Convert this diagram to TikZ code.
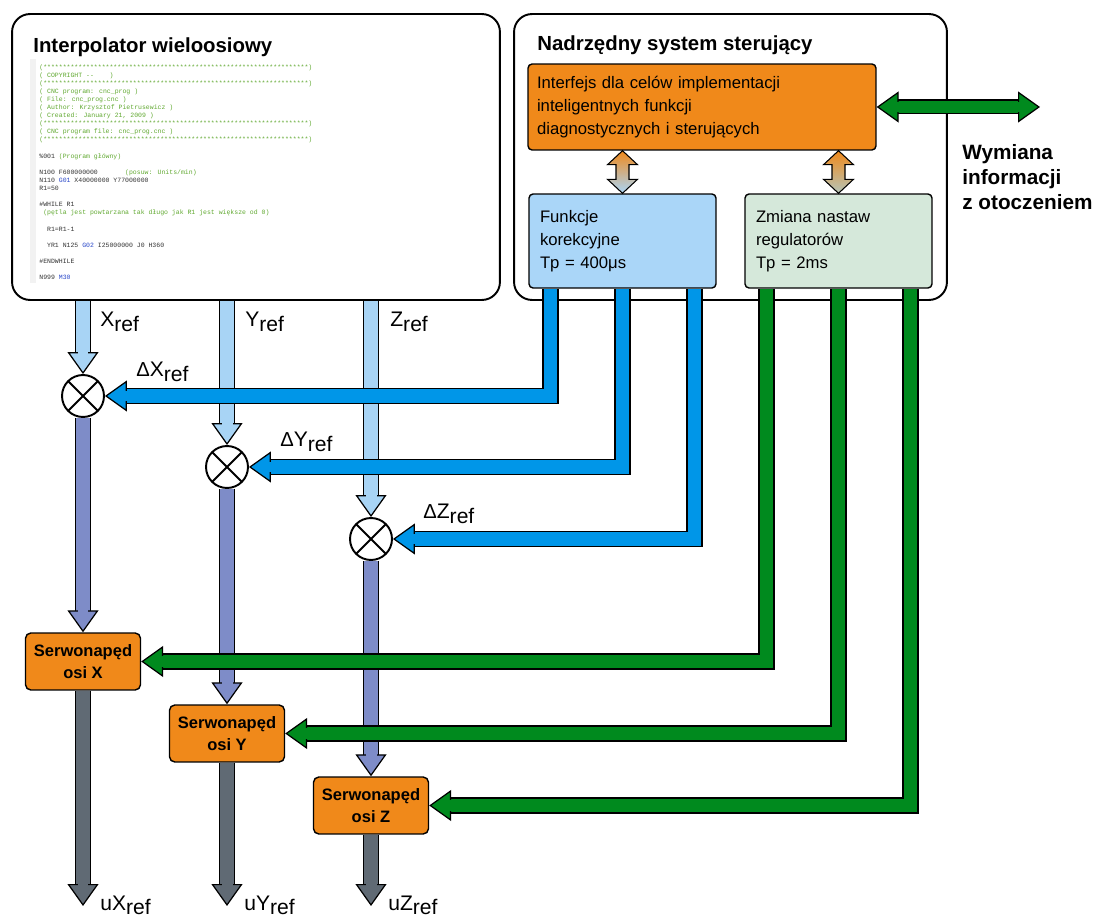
\documentclass[tikz,border=0pt]{standalone}
\usepackage{fontspec}
\setmainfont{Liberation Sans}
\newfontfamily\codefont{Liberation Mono}
\usepackage{tikz}
\usetikzlibrary{arrows.meta,calc,positioning,shapes.geometric}

\definecolor{orangec}{RGB}{240,137,26}
\definecolor{pipeblue}{RGB}{0,150,232}
\definecolor{inblue}{RGB}{168,212,245}
\definecolor{fkfill}{RGB}{170,214,248}
\definecolor{zmfill}{RGB}{213,232,218}
\definecolor{violetc}{RGB}{126,140,200}
\definecolor{outgray}{RGB}{96,106,116}
\definecolor{pipegreen}{RGB}{0,138,30}
\definecolor{codegreen}{RGB}{96,168,48}
\definecolor{codeblue}{RGB}{40,70,200}

\newcommand\refsub{\raisebox{-2.6pt}{ref}}
\newcommand\dlt{{\fontsize{11.5}{12}\selectfont Δ}}
\newcommand\cmt[1]{\textcolor{codegreen}{#1}}
\newcommand\kw[1]{\textcolor{codeblue}{#1}}
\newcommand\stars{(********************************************************************)}
% double arrow with gradient between two boxes
\newcommand\vdbl[3]{%
	\shadedraw[top color=orangec, bottom color=#3, draw=black, line width=0.6pt]
	let \p1=(#1), \p2=(#2) in
	(\x1,\y1) -- (\x1+0.3cm,\y1-0.28cm) -- (\x1+0.13cm,\y1-0.28cm) -- (\x1+0.13cm,\y2+0.28cm)
	-- (\x1+0.3cm,\y2+0.28cm) -- (\x1,\y2) -- (\x1-0.3cm,\y2+0.28cm) -- (\x1-0.13cm,\y2+0.28cm)
	-- (\x1-0.13cm,\y1-0.28cm) -- (\x1-0.3cm,\y1-0.28cm) -- cycle;}

\tikzset{%
	bigbox/.style  = {draw, line width=1.1pt, rounded corners=0.36cm, inner sep=0pt, minimum height=5.72cm},
	title/.style   = {anchor=base west, inner sep=0pt, font=\bfseries\fontsize{11.6}{14}\selectfont},
	code/.style    = {anchor=north west, inner sep=0pt, align=left, text=black!80, font=\codefont\fontsize{3.7}{4.61}\selectfont},
	panel/.style   = {draw, line width=0.8pt, rounded corners=2.3pt, inner sep=0.18cm, align=left, font=\fontsize{9.5}{13.1}\selectfont},
	servo/.style   = {draw, line width=0.8pt, fill=orangec, rounded corners=3pt, minimum width=2.3cm, minimum height=1.14cm, inner sep=0pt, align=center, font=\bfseries\fontsize{9.4}{12.7}\selectfont},
	sum/.style     = {draw, circle, line width=1.1pt, fill=white, minimum size=0.84cm, inner sep=0pt,
		path picture={\draw[line width=1.1pt] (path picture bounding box.north west) -- (path picture bounding box.south east)
			(path picture bounding box.north east) -- (path picture bounding box.south west);}},
	lbl/.style     = {anchor=base west, inner sep=0pt, font=\fontsize{12}{14}\selectfont},
	pipe/.style    = {draw=#1, line width=0.27cm,
		-{Triangle[width=0.62cm, length=0.44cm, fill=#1, color=black, line width=0.7pt]},
		preaction={draw=black, line width=0.33cm, arrows=-, shorten >=0.42cm},
		postaction={draw=#1, line width=0.22cm, arrows=-, shorten >=0.40cm}},
	dblpipe/.style = {draw=#1, line width=0.24cm,
		{Triangle[width=0.62cm, length=0.44cm, fill=#1, color=black, line width=0.7pt]}-{Triangle[width=0.62cm, length=0.44cm, fill=#1, color=black, line width=0.7pt]},
		preaction={draw=black, line width=0.30cm, arrows=-, shorten >=0.42cm, shorten <=0.42cm},
		postaction={draw=#1, line width=0.19cm, arrows=-, shorten >=0.40cm, shorten <=0.40cm}},
}

\begin{document}
\begin{tikzpicture}[x=0.02cm, y=-0.02cm]
	\useasboundingbox (0,0) rectangle (1093,922);
	% main blocks
	\node[bigbox, minimum width=9.76cm] (ip) at (256,157) {};
	\node[bigbox, minimum width=8.66cm] (ns) at (730.5,157) {};
	\node[title] (ipt) at (33,53) {Interpolator wieloosiowy};
	\node[title] (nst) at (537,51) {Nadrzędny system sterujący};
	% program listing
	\fill[gray!10] (30,59) rectangle (36,283);
	\node[code] (cnc) at (39,64) {%
		\cmt{\stars}\\
		\cmt{( COPYRIGHT --~~~~)}\\
		\cmt{\stars}\\
		\cmt{( CNC program: cnc\_prog )}\\
		\cmt{( File: cnc\_prog.cnc )}\\
		\cmt{( Author: Krzysztof Pietrusewicz )}\\
		\cmt{( Created: January 21, 2009 )}\\
		\cmt{\stars}\\
		\cmt{( CNC program file: cnc\_prog.cnc )}\\
		\cmt{\stars}\\
		\mbox{}\\
		\%001 \cmt{(Program główny)}\\
		\mbox{}\\
		N100 F600000000~~~~~~~\cmt{(posuw: Units/min)}\\
		N110 \kw{G01} X40000000 Y77000000\\
		R1=50\\
		\mbox{}\\
		\#WHILE R1\\
		\phantom{x}\cmt{(pętla jest powtarzana tak długo jak R1 jest większe od 0)}\\
		\mbox{}\\
		\phantom{xx}R1=R1-1\\
		\mbox{}\\
		\phantom{xx}YR1 N125 \kw{G02} I25000000 J0 H360\\
		\mbox{}\\
		\#ENDWHILE\\
		\mbox{}\\
		N999 \kw{M30}};
	% supervisory blocks
	\node[panel, fill=orangec, text width=6.6cm, minimum height=1.72cm] (ifc) at (702,107)
		{Interfejs dla celów implementacji\\inteligentnych funkcji\\diagnostycznych i sterujących};
	\node[panel, fill=fkfill, text width=3.3cm, inner xsep=0.22cm, minimum height=1.88cm] (fk) at (622.5,241)
		{Funkcje\\korekcyjne\\Tp = 400μs};
	\node[panel, fill=zmfill, text width=3.3cm, inner xsep=0.22cm, minimum height=1.88cm] (zm) at (838.5,241)
		{Zmiana nastaw\\regulatorów\\Tp = 2ms};
	\node[anchor=north west, inner sep=0pt, align=left, font=\bfseries\fontsize{11.8}{14.3}\selectfont] (wym) at (962,144)
		{Wymiana\\informacji\\z otoczeniem};
	\coordinate (ext) at (1040,107);
	% summing points and drives
	\node[sum] (sumx) at (83,396) {};
	\node[sum] (sumy) at (227,467) {};
	\node[sum] (sumz) at (371,539) {};
	\node[servo] (srvx) at (83,661.5) {Serwonapęd\\osi X};
	\node[servo] (srvy) at (227,733.5) {Serwonapęd\\osi Y};
	\node[servo] (srvz) at (371,805.5) {Serwonapęd\\osi Z};
	\coordinate (outx) at (83,906);
	\coordinate (outy) at (227,906);
	\coordinate (outz) at (371,906);
	% labels
	\node[lbl] (lx) at (100,327) {X\refsub};
	\node[lbl] (ly) at (245,327) {Y\refsub};
	\node[lbl] (lz) at (390,327) {Z\refsub};
	\node[lbl] (ldx) at (136,377) {\dlt X\refsub};
	\node[lbl] (ldy) at (280,447) {\dlt Y\refsub};
	\node[lbl] (ldz) at (423,519) {\dlt Z\refsub};
	\node[lbl] (lux) at (100,910) {uX\refsub};
	\node[lbl] (luy) at (244,910) {uY\refsub};
	\node[lbl] (luz) at (388,910) {uZ\refsub};
	% reference paths
	\draw[pipe=inblue] (ip.south -| sumx) -- (sumx.north);
	\draw[pipe=inblue] (ip.south -| sumy) -- (sumy.north);
	\draw[pipe=inblue] (ip.south -| sumz) -- (sumz.north);
	\draw[pipe=violetc] (sumx.south) -- (srvx.north);
	\draw[pipe=violetc] (sumy.south) -- (srvy.north);
	\draw[pipe=violetc] (sumz.south) -- (srvz.north);
	\draw[pipe=outgray] (srvx.south) -- (outx);
	\draw[pipe=outgray] (srvy.south) -- (outy);
	\draw[pipe=outgray] (srvz.south) -- (outz);
	% corrections
	\draw[pipe=pipeblue] ($(fk.south west)+(22,0)$) |- (sumx.east);
	\draw[pipe=pipeblue] (fk.south) |- (sumy.east);
	\draw[pipe=pipeblue] ($(fk.south east)+(-22,0)$) |- (sumz.east);
	% controller settings
	\draw[pipe=pipegreen] ($(zm.south west)+(22,0)$) |- (srvx.east);
	\draw[pipe=pipegreen] (zm.south) |- (srvy.east);
	\draw[pipe=pipegreen] ($(zm.south east)+(-22,0)$) |- (srvz.east);
	\draw[dblpipe=pipegreen] (ifc.east) -- (ext);
	\vdbl{fk.north |- ifc.south}{fk.north}{fkfill}
	\vdbl{zm.north |- ifc.south}{zm.north}{zmfill!85!black}
\end{tikzpicture}
\end{document}
